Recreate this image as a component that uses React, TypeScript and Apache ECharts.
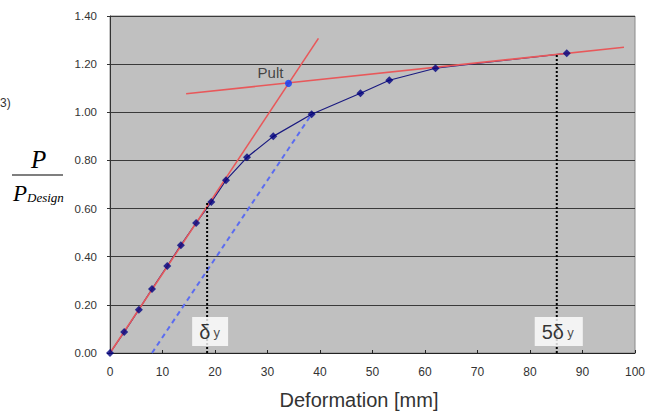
import React, { useEffect, useRef } from "react";
import * as echarts from "echarts";

const curveX = [0, 2.7, 5.5, 8.0, 10.9, 13.5, 16.4, 19.3, 22.1, 26.1, 31.1, 38.4, 47.7, 53.2, 62.0, 87.0];
const curveY = [0, 0.087, 0.18, 0.266, 0.361, 0.448, 0.54, 0.627, 0.718, 0.813, 0.9, 0.992, 1.079, 1.133, 1.183, 1.245];
const initialLine = [[0, 0], [39.7, 1.307]];
const postLine = [[14.5, 1.077], [97.9, 1.27]];
const secantLine = [[8.0, 0], [38.4, 0.992]];
const pult = [[34.0, 1.12]];
const deltaY = 18.5;
const deltaYLoad = 0.627;
const delta5 = 85.1;
const delta5Load = 1.245;
const xTicks = [0, 10, 20, 30, 40, 50, 60, 70, 80, 90, 100];

export default function App() {
  const ref = useRef<HTMLDivElement>(null);
  useEffect(() => {
    const chart = echarts.init(ref.current!, null, { renderer: "svg" });
    const curve = curveX.map((x, i) => [x, curveY[i]]);
    const font = "Liberation Sans, Arial, sans-serif";
    const serif = "Liberation Serif, Times New Roman, serif";
    chart.setOption({
      animation: false,
      grid: {
        left: 110,
        right: 15,
        top: 16,
        bottom: 63,
        show: true,
        backgroundColor: "#c0c0c0",
        borderColor: "#8a8a8a",
        borderWidth: 1,
      },
      xAxis: {
        type: "value",
        min: xTicks[0],
        max: xTicks[xTicks.length - 1],
        interval: 10,
        axisLine: { show: true, lineStyle: { color: "#222", width: 1 } },
        axisTick: { show: true, inside: true, length: 3, lineStyle: { color: "#222" } },
        splitLine: { show: false },
        axisLabel: { color: "#333", fontSize: 12, fontFamily: font, margin: 13 },
      },
      yAxis: {
        type: "value",
        min: 0,
        max: 1.4,
        interval: 0.2,
        axisLine: { show: true, lineStyle: { color: "#333", width: 1 } },
        axisTick: { show: true, length: 3, lineStyle: { color: "#333" } },
        splitLine: { show: true, lineStyle: { color: "#3a3a3a", width: 1 } },
        axisLabel: {
          color: "#333",
          fontSize: 11.5,
          fontFamily: font,
          margin: 13,
          formatter: (v: number) => v.toFixed(2),
        },
      },
      series: [
        {
          type: "line",
          data: secantLine,
          symbol: "none",
          lineStyle: { color: "#5b6cf0", width: 2, type: [5, 4] },
          z: 2,
        },
        {
          type: "line",
          data: curve,
          symbol: "none",
          lineStyle: { color: "#1a1a80", width: 1.2 },
          z: 3,
        },
        {
          type: "line",
          data: initialLine,
          symbol: "none",
          lineStyle: { color: "#e8585a", width: 1.6 },
          z: 4,
        },
        {
          type: "line",
          data: postLine,
          symbol: "none",
          lineStyle: { color: "#e8585a", width: 1.6 },
          z: 4,
        },
        {
          type: "line",
          data: [[deltaY, 0], [deltaY, deltaYLoad]],
          symbol: "none",
          lineStyle: { color: "#000", width: 2, type: [2, 2] },
          z: 5,
        },
        {
          type: "line",
          data: [[delta5, 0], [delta5, delta5Load]],
          symbol: "none",
          lineStyle: { color: "#000", width: 2, type: [2, 2] },
          z: 5,
        },
        {
          type: "scatter",
          data: curve,
          symbol: "diamond",
          symbolSize: 8,
          itemStyle: { color: "#000080" },
          z: 6,
        },
        {
          type: "scatter",
          data: pult,
          symbol: "circle",
          symbolSize: 7,
          itemStyle: { color: "#0a3cff" },
          label: {
            show: true,
            formatter: "Pult",
            position: "top",
            offset: [-18, 5],
            color: "#222",
            fontSize: 15,
            fontFamily: font,
          },
          z: 7,
        },
        {
          type: "scatter",
          data: [[deltaY, 0]],
          symbolSize: 0,
          label: {
            show: true,
            position: "top",
            distance: 7,
            offset: [3, 0],
            backgroundColor: "#fff",
            padding: [5, 8, 4, 7],
            formatter: "{d|δ} {s|y}",
            rich: {
              d: { fontSize: 20, color: "#000", fontFamily: font },
              s: { fontSize: 13, color: "#222", fontFamily: font },
            },
          },
          z: 8,
        },
        {
          type: "scatter",
          data: [[delta5, 0]],
          symbolSize: 0,
          label: {
            show: true,
            position: "top",
            distance: 7,
            offset: [2, 0],
            backgroundColor: "#fff",
            padding: [5, 9, 4, 7],
            formatter: "{d|5δ} {s|y}",
            rich: {
              d: { fontSize: 20, color: "#000", fontFamily: font },
              s: { fontSize: 13, color: "#222", fontFamily: font },
            },
          },
          z: 8,
        },
      ],
      graphic: [
        {
          type: "text",
          x: 359,
          y: 390,
          style: { text: "Deformation [mm]", fontSize: 20, fill: "#333", fontFamily: font, align: "center" },
        },
        {
          type: "text",
          x: 0,
          y: 97,
          style: { text: "3)", fontSize: 12, fill: "#333", fontFamily: font },
        },
        {
          type: "text",
          x: 31,
          y: 147,
          style: { text: "P", fontSize: 25, fontStyle: "italic", fill: "#000", fontFamily: serif },
        },
        {
          type: "line",
          shape: { x1: 12, y1: 175, x2: 63, y2: 175 },
          style: { stroke: "#000", lineWidth: 1.2 },
        },
        {
          type: "text",
          x: 13,
          y: 182,
          style: { text: "P", fontSize: 23, fontStyle: "italic", fill: "#000", fontFamily: serif },
        },
        {
          type: "text",
          x: 27,
          y: 191,
          style: { text: "Design", fontSize: 13, fontStyle: "italic", fill: "#000", fontFamily: serif },
        },
      ],
    });
    return () => chart.dispose();
  }, []);
  return <div ref={ref} style={{ width: 650, height: 416, position: "absolute", left: 0, top: 0 }} />;
}
